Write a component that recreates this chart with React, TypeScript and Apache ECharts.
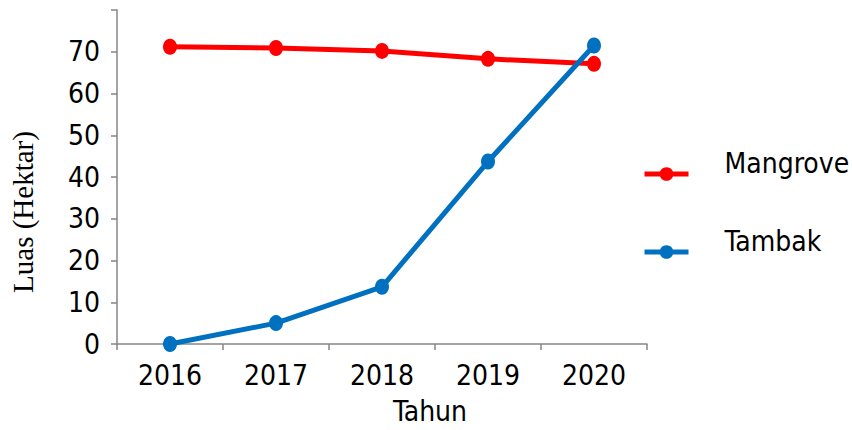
import React, { useEffect, useRef } from "react";
import * as echarts from "echarts";

const years = ["2016", "2017", "2018", "2019", "2020"];
const mangrove = [71.2, 70.9, 70.2, 68.3, 67.1];
const tambak = [0, 5.0, 13.7, 43.7, 71.5];
const yTicks = { min: 0, max: 80, interval: 10 };

const SANS = "'DejaVu Sans Condensed', 'Liberation Sans', sans-serif";
const SERIF = "'Liberation Serif', 'DejaVu Serif', serif";
const AXIS_COLOR = "#868686";
const RED = "#FF0000";
const BLUE = "#0070C0";
const FS = 28;

export default function App() {
  const ref = useRef<HTMLDivElement>(null);
  useEffect(() => {
    if (!ref.current) return;
    const chart = echarts.init(ref.current, null, { renderer: "svg" });
    const legendCommon = {
      left: 642,
      orient: "vertical",
      padding: 0,
      itemWidth: 44,
      itemHeight: 17,
      lineStyle: { width: 5 },
      formatter: (name: string) => `{t|${name}}\n{g|}`,
      textStyle: {
        fontFamily: SANS,
        fontSize: FS,
        color: "#000",
        rich: {
          t: { fontFamily: SANS, fontSize: FS, color: "#000", padding: [0, 0, 0, 31] },
          g: { height: 22 },
        },
      },
    };
    chart.setOption({
      animation: false,
      backgroundColor: "#fff",
      grid: { left: 114, right: 205, top: 10, bottom: 84, containLabel: false },
      legend: [
        { ...legendCommon, data: ["Mangrove"], top: 149 },
        { ...legendCommon, data: ["Tambak"], top: 227 },
      ],
      xAxis: {
        type: "category",
        data: years,
        boundaryGap: true,
        name: "Tahun",
        nameLocation: "middle",
        nameGap: 53,
        nameTextStyle: {
          fontFamily: SANS,
          fontSize: FS,
          color: "#000",
          padding: [0, 0, 0, 96],
        },
        axisLine: { lineStyle: { color: AXIS_COLOR, width: 1.5 } },
        axisTick: { show: true, length: 6, alignWithLabel: false, lineStyle: { color: AXIS_COLOR, width: 1.5 } },
        axisLabel: { fontFamily: SANS, fontSize: FS, color: "#000", margin: 17 },
        splitLine: { show: false },
      },
      yAxis: {
        type: "value",
        min: yTicks.min,
        max: yTicks.max,
        interval: yTicks.interval,
        name: "Luas (Hektar)",
        nameLocation: "middle",
        nameRotate: 90,
        nameGap: 80,
        nameTextStyle: {
          fontFamily: SERIF,
          fontSize: 29,
          color: "#000",
          padding: [0, 70, 0, 0],
        },
        axisLine: { show: true, lineStyle: { color: AXIS_COLOR, width: 1.5 } },
        axisTick: { show: true, length: 6, lineStyle: { color: AXIS_COLOR, width: 1.5 } },
        axisLabel: {
          fontFamily: SANS,
          fontSize: FS,
          color: "#000",
          margin: 17,
          formatter: (v: number) => (v >= yTicks.max ? "" : String(v)),
        },
        splitLine: { show: false },
      },
      series: [
        {
          name: "Mangrove",
          type: "line",
          data: mangrove,
          symbol: "circle",
          symbolSize: [14, 16],
          lineStyle: { color: RED, width: 5 },
          itemStyle: { color: RED },
        },
        {
          name: "Tambak",
          type: "line",
          data: tambak,
          symbol: "circle",
          symbolSize: [14, 16],
          lineStyle: { color: BLUE, width: 5 },
          itemStyle: { color: BLUE },
        },
      ],
    });
    return () => chart.dispose();
  }, []);
  return (
    <div
      ref={ref}
      style={{ position: "fixed", left: 0, top: 0, width: 852, height: 430, background: "#fff" }}
    />
  );
}
